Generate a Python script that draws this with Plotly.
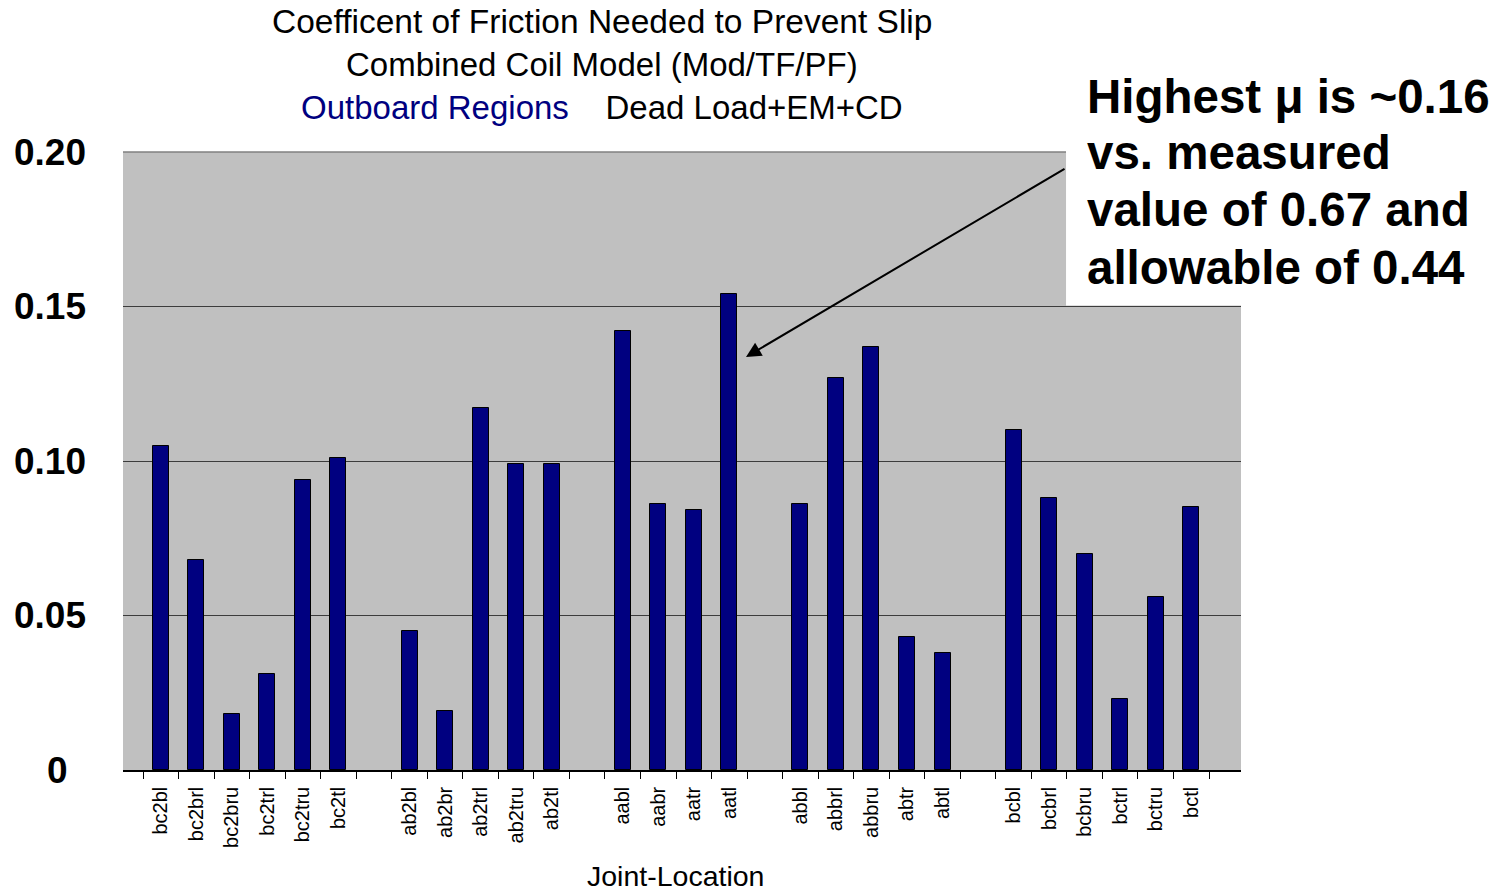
import plotly.graph_objects as go

# Joint locations, with blank slots separating the coil groups
joints = ["bc2bl", "bc2brl", "bc2bru", "bc2trl", "bc2tru", "bc2tl", "",
          "ab2bl", "ab2br", "ab2trl", "ab2tru", "ab2tl", "",
          "aabl", "aabr", "aatr", "aatl", "",
          "abbl", "abbrl", "abbru", "abtr", "abtl", "",
          "bcbl", "bcbrl", "bcbru", "bctrl", "bctru", "bctl"]

# Coefficient of friction needed to prevent slip
mu_needed = [0.105, 0.068, 0.018, 0.031, 0.094, 0.101, None,
             0.045, 0.019, 0.117, 0.099, 0.099, None,
             0.142, 0.086, 0.084, 0.154, None,
             0.086, 0.127, 0.137, 0.043, 0.038, None,
             0.110, 0.088, 0.070, 0.023, 0.056, 0.085]

y_tick_vals = [0, 0.05, 0.10, 0.15, 0.20]
y_tick_text = ["0\u2002", "0.05", "0.10", "0.15", "0.20"]

note_lines = ["Highest \u03bc is ~0.16", "vs. measured", "value of 0.67 and", "allowable of 0.44"]

FONT = "Liberation Sans, Arial, sans-serif"
NAVY = "#000080"

positions = list(range(len(joints)))

fig = go.Figure(go.Bar(
    x=positions,
    y=mu_needed,
    width=0.45,
    marker=dict(color=NAVY, line=dict(color="black", width=1)),
    hoverinfo="x+y",
))

annotations = []

# Three-line chart heading
heading = [
    ("Coefficent of Friction Needed to Prevent Slip", 1.2104, 33.5),
    ("Combined Coil Model (Mod/TF/PF)", 1.1408, 33),
    ("<span style='color:%s'>Outboard Regions</span>&nbsp;&nbsp;&nbsp;&nbsp;Dead Load+EM+CD" % NAVY, 1.0712, 33),
]
for txt, ypos, fsize in heading:
    annotations.append(dict(text=txt, xref="paper", yref="paper", x=0.4284, y=ypos,
                            xanchor="center", yanchor="middle", showarrow=False,
                            font=dict(family=FONT, size=fsize, color="black")))

# Callout text
note_y = [1.0906, 1.0000, 0.9062, 0.8139]
for txt, ypos in zip(note_lines, note_y):
    annotations.append(dict(text="<b>%s</b>" % txt, xref="paper", yref="paper",
                            x=0.8605, y=ypos, xanchor="left", yanchor="middle",
                            showarrow=False,
                            font=dict(family=FONT, size=47.5, color="black")))

# Arrow pointing at the tallest bar (aatl)
peak_idx = joints.index("aatl")
annotations.append(dict(text="", xref="x", yref="y",
                        x=peak_idx + 0.47, y=mu_needed[peak_idx] * 0.868,
                        ax=320, ay=-189, showarrow=True,
                        arrowhead=2, arrowsize=1.5, arrowwidth=2, arrowcolor="black",
                        standoff=0))

# X-axis title
annotations.append(dict(text="Joint-Location", xref="paper", yref="paper",
                        x=0.4942, y=-0.1715, xanchor="center", yanchor="middle",
                        showarrow=False, font=dict(family=FONT, size=28.5, color="black")))

shapes = [
    # white panel behind the callout text
    dict(type="rect", xref="paper", yref="paper", x0=0.8435, x1=1.02, y0=0.7515, y1=1.02,
         fillcolor="white", line=dict(width=0), layer="above"),
    # top border of the plot area
    dict(type="line", xref="paper", yref="paper", x0=0, x1=0.8435, y0=1, y1=1,
         line=dict(color="#808080", width=1.5), layer="above"),
]

fig.update_layout(
    width=1502, height=891,
    margin=dict(l=123, r=261, t=152, b=121),
    paper_bgcolor="white",
    plot_bgcolor="#C0C0C0",
    showlegend=False,
    bargap=0,
    annotations=annotations,
    shapes=shapes,
    font=dict(family=FONT, color="black"),
)

fig.update_xaxes(
    range=[-1.063, 30.4],
    tickmode="array",
    tickvals=positions,
    ticktext=joints,
    tickangle=-90,
    ticks="",
    ticklabelstandoff=7,
    tickfont=dict(family=FONT, size=20, color="black"),
    showgrid=False,
    zeroline=False,
    showline=True, linecolor="black", linewidth=1.5,
    minor=dict(tickmode="array", tickvals=[i - 0.5 for i in range(len(joints) + 1)],
               ticks="outside", ticklen=7, tickcolor="black", tickwidth=1, showgrid=False),
)

fig.update_yaxes(
    range=[0, 0.2],
    tickmode="array",
    tickvals=y_tick_vals,
    ticktext=y_tick_text,
    ticks="",
    ticklabelstandoff=36,
    tickfont=dict(family=FONT, size=37, color="black", weight="bold"),
    showgrid=True, gridcolor="#3c3c3c", gridwidth=1,
    zeroline=False,
    showline=False,
)

fig.write_html("out.html")
